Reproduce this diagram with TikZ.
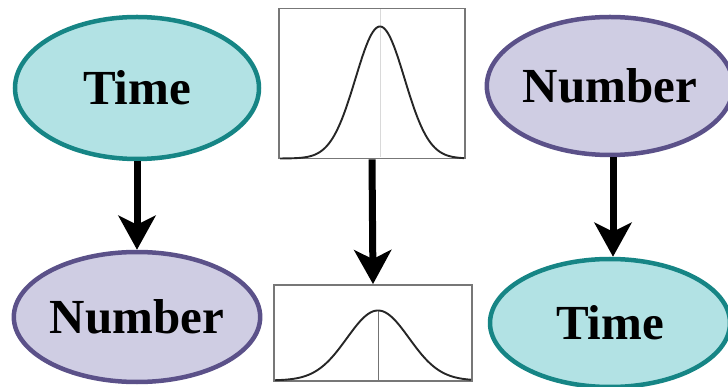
\documentclass[tikz,border=0pt]{standalone}
\usepackage{fontspec}
\setmainfont{Liberation Serif}
\usetikzlibrary{shapes.geometric,arrows.meta}
\definecolor{timefill}{HTML}{B2E2E4}
\definecolor{timeline}{HTML}{168585}
\definecolor{numfill}{HTML}{CFCDE3}
\definecolor{numline}{HTML}{5B5189}
\definecolor{boxline}{HTML}{777777}
\begin{document}
\begin{tikzpicture}[x={(1pt,0)},y={(0,-1pt)},
  timenode/.style={ellipse,draw=timeline,fill=timefill,line width=4.5pt,inner sep=0pt,font=\fontsize{49}{52}\selectfont\bfseries},
  numnode/.style={ellipse,draw=numline,fill=numfill,line width=4.5pt,inner sep=0pt,font=\fontsize{49}{52}\selectfont\bfseries},
  gbox/.style={rectangle,draw=boxline,line width=1.8pt,inner sep=0pt},
  bigarrow/.style={line width=7pt,-{Stealth[length=34pt,width=37pt,inset=9pt]}}]
\useasboundingbox (0,0) rectangle (728,387);
% left column
\node[timenode,minimum width=244pt,minimum height=142pt] (t1) at (137,88) {Time};
\node[numnode,minimum width=246pt,minimum height=130pt] (n1) at (137,317) {Number};
% right column
\node[numnode,minimum width=240pt,minimum height=138pt] (n2) at (610,86) {Number};
\node[timenode,minimum width=240pt,minimum height=128pt] (t2) at (610,323) {Time};
% middle boxes
\node[gbox,minimum width=186pt,minimum height=150pt] (g1) at (372,83.5) {};
\node[gbox,minimum width=198pt,minimum height=96pt] (g2) at (373,333) {};
% curves
\draw[black!15,line width=1pt] (380,9.5) -- (380,157.5);
\draw[black!85,line width=1.9pt] plot[domain=280:464,samples=120] (\x,{158.5-132*exp(-((\x-380)*(\x-380))/(2*24.5*24.5))});
\draw[black!55,line width=1pt] (378,311) -- (378,380);
\draw[black!85,line width=1.9pt] plot[domain=275:471,samples=120] (\x,{380.5-70*exp(-((\x-378)*(\x-378))/(2*31*31))});
% arrows
\draw[bigarrow] (t1) -- (n1);
\draw[bigarrow] (g1.south) -- (g2.north);
\draw[bigarrow] (n2.south -| 613,0) -- (t2.north -| 613,0);
\end{tikzpicture}
\end{document}
